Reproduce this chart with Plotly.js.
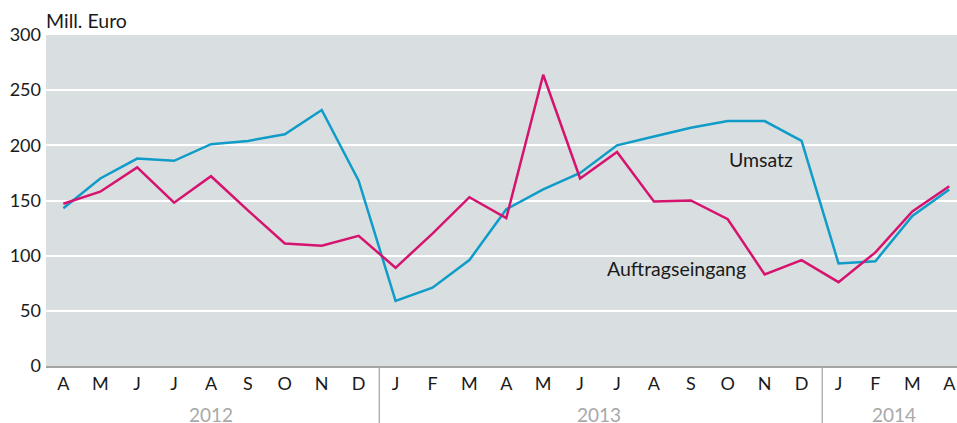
<!DOCTYPE html>
<html>
<head>
<meta charset="utf-8">
<script src="https://cdn.plot.ly/plotly-3.0.1.min.js"></script>
<style>html,body{margin:0;padding:0;background:#fff;}#chart{width:957px;height:423px;}</style>
</head>
<body>
<div id="chart"></div>
<script>
const months = ["A","M","J","J","A","S","O","N","D","J","F","M","A","M","J","J","A","S","O","N","D","J","F","M","A"];
const years = ["2012","2013","2014"];
const umsatz = [143,170,188,186,201,204,210,232,168,59,71,96,142,160,175,200,208,216,222,222,204,93,95,136,160];
const auftragseingang = [147,158,180,148,172,141,111,109,118,89,120,153,134,264,170,194,149,150,133,83,96,76,103,140,163];
const yTicks = [0,50,100,150,200,250,300];

const idx = months.map((m,i)=>i);
const font = "Lato, 'Open Sans', sans-serif";

const traces = [
  {x: idx, y: umsatz, type:'scatter', mode:'lines', line:{color:'#0f9cc8', width:2.5}, hoverinfo:'none'},
  {x: idx, y: auftragseingang, type:'scatter', mode:'lines', line:{color:'#d6136f', width:2.5}, hoverinfo:'none'}
];

const yearCenters = [4, 14.5, 22.5];
const annotations = [
  {text:'Umsatz', x:18.9, y:187, xref:'x', yref:'y', showarrow:false, font:{family:font, size:19.5, color:'#1a1a1a'}},
  {text:'Auftragseingang', x:16.62, y:88, xref:'x', yref:'y', showarrow:false, font:{family:font, size:19.5, color:'#1a1a1a'}},
  {text:'Mill. Euro', x:0, y:1.0, xref:'paper', yref:'paper', xanchor:'left', yanchor:'bottom', xshift:-2, yshift:1, showarrow:false, font:{family:font, size:19.5, color:'#1a1a1a'}}
];
years.forEach((yr,i)=>annotations.push({text:yr, x:yearCenters[i], y:-0.148, xref:'x', yref:'paper', yanchor:'middle', showarrow:false, font:{family:font, size:19, color:'#a8a8a8'}}));

const shapes = [8.56, 20.56].map(xv=>({type:'line', xref:'x', yref:'paper', x0:xv, x1:xv, y0:-0.004, y1:-0.175, line:{color:'#b3b3b3', width:1.5}}));

const layout = {
  width:957, height:423,
  margin:{l:46, r:0, t:35, b:57},
  paper_bgcolor:'#ffffff', plot_bgcolor:'#d9dfe0',
  showlegend:false,
  xaxis:{
    range:[-0.47, 24.21], tickvals: idx, ticktext: months, showgrid:false, zeroline:false,
    showline:true, linecolor:'#a3a3a3', linewidth:2, ticks:'', tickfont:{family:font, size:18, color:'#1a1a1a'},
    fixedrange:true
  },
  yaxis:{
    range:[0,300], tickvals:yTicks, ticktext:yTicks.map(String), showgrid:true, gridcolor:'#ffffff', gridwidth:2,
    zeroline:false, showline:false, ticks:'', tickfont:{family:font, size:18, color:'#1a1a1a'}, ticklabelstandoff:4,
    fixedrange:true
  },
  annotations: annotations,
  shapes: shapes
};

Plotly.newPlot('chart', traces, layout, {staticPlot:true, displayModeBar:false});
</script>
</body>
</html>
